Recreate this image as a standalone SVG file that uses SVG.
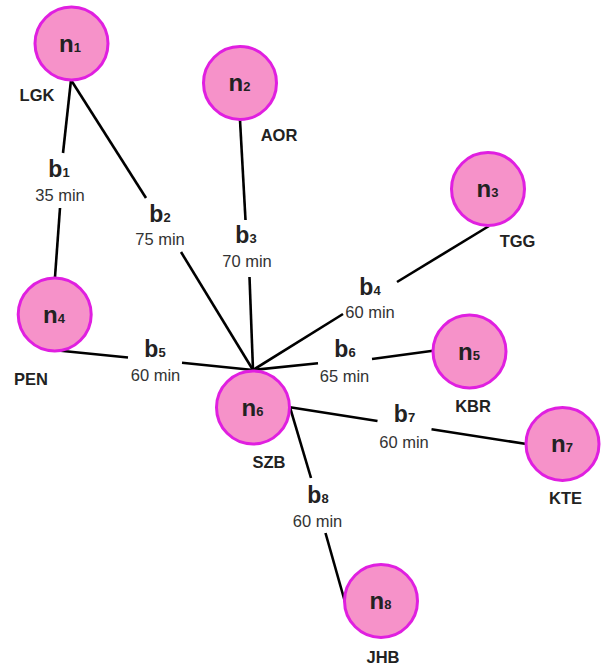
<svg xmlns="http://www.w3.org/2000/svg" width="605" height="666" viewBox="0 0 605 666">
<style>
.node{fill:#f692c9;stroke:#e01fe0;stroke-width:3}
.nl{font-family:"Liberation Sans",Arial,sans-serif;font-weight:bold;font-size:24px;fill:#222;text-anchor:middle}
.sub{font-size:13px}
.name{font-family:"Liberation Sans",Arial,sans-serif;font-weight:bold;font-size:16.5px;fill:#222;text-anchor:middle}
.bl{font-family:"Liberation Sans",Arial,sans-serif;font-weight:bold;font-size:23px;fill:#222;text-anchor:middle}
.tm{font-family:"Liberation Sans",Arial,sans-serif;font-size:16.5px;fill:#333;text-anchor:middle}
.edge{stroke:#000;stroke-width:2.6;fill:none}
</style>
<rect width="605" height="666" fill="#fff"/>
<g id="connectors">
<g id="e1"><line class="edge" x1="71" y1="80" x2="63" y2="153"/><line class="edge" x1="60" y1="208" x2="55" y2="277"/>
<text class="bl" x="59" y="177">b<tspan class="sub">1</tspan></text><text class="tm" x="60" y="201">35 min</text></g>
<g id="e2"><line class="edge" x1="71" y1="80" x2="146" y2="198"/><line class="edge" x1="181" y1="252" x2="253" y2="370"/>
<text class="bl" x="160" y="222">b<tspan class="sub">2</tspan></text><text class="tm" x="160" y="245">75 min</text></g>
<g id="e3"><line class="edge" x1="240" y1="120" x2="245.5" y2="220"/><line class="edge" x1="249.5" y1="277" x2="253" y2="370"/>
<text class="bl" x="246" y="243">b<tspan class="sub">3</tspan></text><text class="tm" x="247" y="267">70 min</text></g>
<g id="e4"><line class="edge" x1="489" y1="226" x2="397" y2="282"/><line class="edge" x1="343" y1="314" x2="253" y2="370"/>
<text class="bl" x="370" y="295">b<tspan class="sub">4</tspan></text><text class="tm" x="370" y="318">60 min</text></g>
<g id="e5"><line class="edge" x1="53" y1="350" x2="128" y2="357.5"/><line class="edge" x1="182" y1="362.8" x2="253" y2="370"/>
<text class="bl" x="155" y="357">b<tspan class="sub">5</tspan></text><text class="tm" x="155.5" y="381">60 min</text></g>
<g id="e6"><line class="edge" x1="253" y1="370" x2="318" y2="363.2"/><line class="edge" x1="372" y1="359" x2="433" y2="350.7"/>
<text class="bl" x="345" y="357">b<tspan class="sub">6</tspan></text><text class="tm" x="344.5" y="382">65 min</text></g>
<g id="e7"><line class="edge" x1="290" y1="407.3" x2="377.5" y2="421"/><line class="edge" x1="431.5" y1="429.3" x2="526.5" y2="444"/>
<text class="bl" x="404.5" y="421.5">b<tspan class="sub">7</tspan></text><text class="tm" x="404" y="447.5">60 min</text></g>
<g id="e8"><line class="edge" x1="290" y1="407.3" x2="311" y2="478"/><line class="edge" x1="325.5" y1="533" x2="345" y2="602"/>
<text class="bl" x="318" y="503">b<tspan class="sub">8</tspan></text><text class="tm" x="317.5" y="526.5">60 min</text></g>
</g>
<g id="n1"><circle class="node" cx="71.5" cy="43.5" r="36.5"/><text class="nl" x="70" y="52">n<tspan class="sub">1</tspan></text><text class="name" x="37" y="101">LGK</text></g>
<g id="n2"><circle class="node" cx="240" cy="83" r="36.5"/><text class="nl" x="239.5" y="91">n<tspan class="sub">2</tspan></text><text class="name" x="279" y="141">AOR</text></g>
<g id="n3"><circle class="node" cx="488" cy="189" r="36.5"/><text class="nl" x="487.5" y="197">n<tspan class="sub">3</tspan></text><text class="name" x="517.5" y="247">TGG</text></g>
<g id="n4"><circle class="node" cx="54.7" cy="314.5" r="36.5"/><text class="nl" x="54" y="322.5">n<tspan class="sub">4</tspan></text><text class="name" x="31" y="385">PEN</text></g>
<g id="n5"><circle class="node" cx="469.5" cy="351.5" r="36.5"/><text class="nl" x="469" y="359.5">n<tspan class="sub">5</tspan></text><text class="name" x="473" y="411.5">KBR</text></g>
<g id="n6"><circle class="node" cx="253" cy="407.5" r="36.5"/><text class="nl" x="252.5" y="415.5">n<tspan class="sub">6</tspan></text><text class="name" x="269" y="467.5">SZB</text></g>
<g id="n7"><circle class="node" cx="562.5" cy="444" r="36.5"/><text class="nl" x="562" y="452">n<tspan class="sub">7</tspan></text><text class="name" x="565.5" y="504">KTE</text></g>
<g id="n8"><circle class="node" cx="381" cy="601" r="36.5"/><text class="nl" x="380.5" y="609">n<tspan class="sub">8</tspan></text><text class="name" x="383" y="662.5">JHB</text></g>
</svg>
